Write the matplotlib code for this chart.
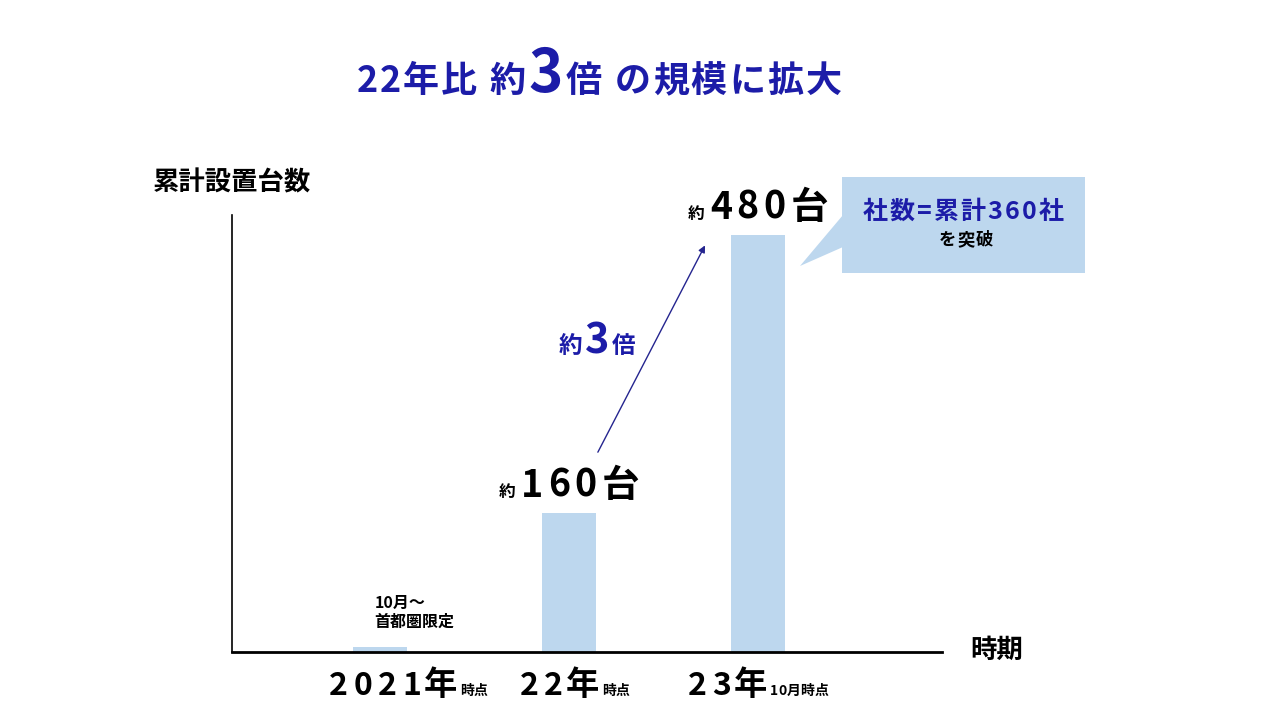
import matplotlib
matplotlib.use("Agg")
import matplotlib.pyplot as plt
from matplotlib.offsetbox import TextArea, HPacker, AnnotationBbox
from matplotlib.patches import Rectangle, Polygon

plt.rcParams['font.family'] = ['Noto Sans CJK JP', 'DejaVu Sans']

# data
periods = ["2021", "22", "23"]
period_suffix = ["時点", "時点", "10月時点"]
counts = [6, 160, 480]
count_labels = [None, "160", "480"]
first_note = "10月～\n首都圏限定"

BLUE = "#1c1ca8"
BAR = "#bdd7ee"

W, H = 1280, 720
fig = plt.figure(figsize=(12.8, 7.2), dpi=100)


def fx(x):
    return x / W


def fy(y):
    return 1 - y / H


ax = fig.add_axes([fx(232), fy(652), fx(942) - fx(232), fy(215) - fy(652)])
xs = list(range(len(counts)))
ax.bar(xs, counts, width=0.29, color=BAR)
ax.set_xlim(-0.783, 2.974)
ax.set_ylim(0, 503)
ax.set_xticks([])
ax.set_yticks([])
for s in ["top", "right"]:
    ax.spines[s].set_visible(False)
ax.spines["left"].set_linewidth(1.2)
ax.spines["bottom"].set_linewidth(2.0)


def packed(parts, sep=1):
    # parts: (text, fontsize, colour, letter gap); wide gaps mimic the rounded font
    boxes = []
    for t, fs, c, gap in parts:
        chars = [TextArea(ch, textprops=dict(fontsize=fs, color=c, fontweight="bold"))
                 for ch in t]
        boxes.append(HPacker(children=chars, align="baseline", pad=0, sep=gap))
    return HPacker(children=boxes, align="baseline", pad=0, sep=sep)


def place(box, xy):
    ab = AnnotationBbox(box, xy, xycoords="figure fraction", frameon=False,
                        box_alignment=(0.5, 0.5), pad=0, annotation_clip=False)
    fig.add_artist(ab)


# title
place(packed([("22年比 約", 26, BLUE, 1.5), ("3", 42, BLUE, 0),
              ("倍 の規模に拡大", 26, BLUE, 1.5)], sep=2),
      (fx(599), fy(75)))

# axis labels
fig.text(fx(153), fy(183), "累計設置台数", fontsize=19, fontweight="bold",
         ha="left", va="center")
fig.text(fx(970), fy(650), "時期", fontsize=19, fontweight="bold",
         ha="left", va="center")

# bar value labels
for x, v, lab in zip(xs, counts, count_labels):
    if lab is None:
        continue
    box = packed([("約", 12, "black", 0), (lab + "台", 27, "black", 3.5)], sep=4)
    ab = AnnotationBbox(box, (x, v), xycoords="data", xybox=(0, 20),
                        boxcoords="offset points", frameon=False,
                        box_alignment=(0.5, 0.5), pad=0, annotation_clip=False)
    ax.add_artist(ab)

# note on first bar
ax.annotate(first_note, (xs[0], counts[0]), xytext=(-4, 12),
            textcoords="offset points", ha="left", va="bottom",
            fontsize=11.5, fontweight="bold", linespacing=1.25)

# x labels
label_shift = [0.15, 0.03, 0.0]
for x, p, suf, sh in zip(xs, periods, period_suffix, label_shift):
    box = packed([(p, 23, "black", 4), ("年", 24, "black", 0), (suf, 10, "black", 0)],
                 sep=2)
    ab = AnnotationBbox(box, (x + sh, -0.077), xycoords=ax.get_xaxis_transform(),
                        frameon=False, box_alignment=(0.5, 0.5), pad=0,
                        annotation_clip=False)
    ax.add_artist(ab)

# growth arrow
ax.annotate("", xy=(1.72, counts[2] - 12), xytext=(1.153, counts[1] + 70),
            arrowprops=dict(arrowstyle="-|>", color="#25258f", lw=1.0,
                            mutation_scale=10, shrinkA=0, shrinkB=0))
place(packed([("約", 17, BLUE, 0), ("3", 30, BLUE, 0), ("倍", 17, BLUE, 0)], sep=2),
      (fx(597), fy(341)))

# callout
fig.patches.append(Rectangle((fx(842), fy(273)), fx(1085) - fx(842), fy(177) - fy(273),
                             transform=fig.transFigure, color=BAR, lw=0))
fig.patches.append(Polygon([(fx(843), fy(215)), (fx(843), fy(247)), (fx(800), fy(266))],
                           closed=True, transform=fig.transFigure, color=BAR, lw=0))
place(packed([("社数=累計360社", 18, BLUE, 1.5)]), (fx(963), fy(212)))
place(packed([("を突破", 12.5, "black", 1)]), (fx(966), fy(240)))

fig.savefig("out.png", dpi=100)
